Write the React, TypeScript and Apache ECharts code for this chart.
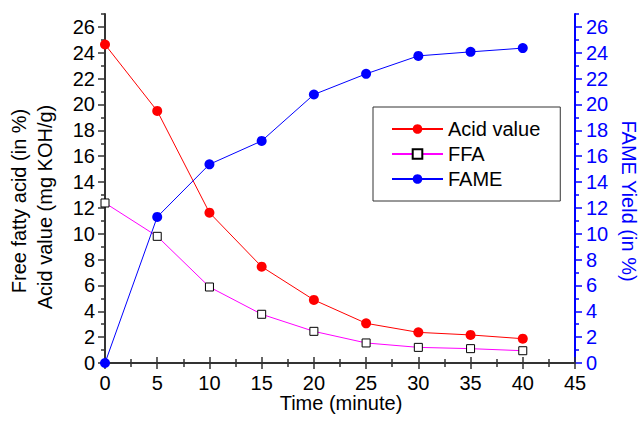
import React, { useEffect, useRef } from "react";
import * as echarts from "echarts";

const timeMin = [0, 5, 10, 15, 20, 25, 30, 35, 40];
const acidValue = [24.64, 19.5, 11.63, 7.45, 4.88, 3.07, 2.37, 2.17, 1.88];
const ffa = [12.38, 9.8, 5.88, 3.77, 2.45, 1.55, 1.21, 1.11, 0.95];
const fame = [0, 11.3, 15.37, 17.18, 20.77, 22.37, 23.76, 24.07, 24.36];
const yMajorTicks = [0, 2, 4, 6, 8, 10, 12, 14, 16, 18, 20, 22, 24, 26];
const yMinorTicks = [1, 3, 5, 7, 9, 11, 13, 15, 17, 19, 21, 23, 25, 27];

const FONT = "'Liberation Sans', Arial, sans-serif";
const AXIS_DARK = "#333333";
const BLUE = "#0000ff";

function pairs(values: number[]) {
  return timeMin.map((t, i) => [t, values[i]]);
}

export default function App() {
  const ref = useRef<HTMLDivElement>(null);
  useEffect(() => {
    if (!ref.current) return;
    const chart = echarts.init(ref.current, undefined, { renderer: "svg" });
    const yBase = {
      type: "value",
      min: 0,
      max: 27,
      splitLine: { show: false },
    };
    const option: any = {
      animation: false,
      backgroundColor: "#ffffff",
      textStyle: { fontFamily: FONT },
      grid: { left: 105, right: 66, top: 14, bottom: 58 },
      xAxis: [
        {
          type: "value",
          min: 0,
          max: 45,
          interval: 5,
          position: "bottom",
          axisLine: { show: true, lineStyle: { color: AXIS_DARK, width: 2 } },
          axisTick: { show: true, inside: true, length: 6, lineStyle: { color: AXIS_DARK, width: 1.5 } },
          minorTick: { show: true, splitNumber: 2, length: 4, lineStyle: { color: AXIS_DARK, width: 1.5 } },
          axisLabel: { color: "#000", fontSize: 20, fontFamily: FONT, margin: 10 },
          splitLine: { show: false },
        },
        {
          type: "value",
          min: 0,
          max: 45,
          interval: 5,
          position: "top",
          axisLine: { show: true, lineStyle: { color: AXIS_DARK, width: 2 } },
          axisTick: { show: true, inside: true, length: 6, lineStyle: { color: AXIS_DARK, width: 1.5 } },
          minorTick: { show: true, splitNumber: 2, length: 4, lineStyle: { color: AXIS_DARK, width: 1.5 } },
          axisLabel: { show: false },
          splitLine: { show: false },
        },
      ],
      yAxis: [
        {
          ...yBase,
          position: "left",
          axisLine: { show: true, lineStyle: { color: AXIS_DARK, width: 2 } },
          axisTick: { show: true, inside: false, length: 7, customValues: yMajorTicks, lineStyle: { color: AXIS_DARK, width: 1.5 } },
          axisLabel: { color: "#000", fontSize: 20, fontFamily: FONT, margin: 10, customValues: yMajorTicks },
        },
        {
          ...yBase,
          position: "left",
          axisLine: { show: false },
          axisTick: { show: true, inside: false, length: 4, customValues: yMinorTicks, lineStyle: { color: AXIS_DARK, width: 1.5 } },
          axisLabel: { show: false },
        },
        {
          ...yBase,
          position: "right",
          axisLine: { show: true, lineStyle: { color: BLUE, width: 2 } },
          axisTick: { show: true, inside: false, length: 7, customValues: yMajorTicks, lineStyle: { color: BLUE, width: 1.5 } },
          axisLabel: { color: BLUE, fontSize: 20, fontFamily: FONT, margin: 11, customValues: yMajorTicks },
        },
        {
          ...yBase,
          position: "right",
          axisLine: { show: false },
          axisTick: { show: true, inside: false, length: 4, customValues: yMinorTicks, lineStyle: { color: BLUE, width: 1.5 } },
          axisLabel: { show: false },
        },
      ],
      legend: {
        left: 373,
        top: 107,
        orient: "vertical",
        data: ["Acid value", "FFA", "FAME"],
        itemWidth: 51,
        itemHeight: 12,
        itemGap: 5,
        padding: [12, 20, 12, 18],
        borderColor: "#333333",
        borderWidth: 1,
        textStyle: { fontSize: 20, fontFamily: FONT, color: "#000", lineHeight: 20 },
      },
      series: [
        {
          name: "Acid value",
          type: "line",
          xAxisIndex: 0,
          yAxisIndex: 0,
          data: pairs(acidValue),
          symbol: "circle",
          symbolSize: 10,
          lineStyle: { color: "#ff0000", width: 1 },
          itemStyle: { color: "#ff0000" },
        },
        {
          name: "FFA",
          type: "line",
          xAxisIndex: 0,
          yAxisIndex: 0,
          data: pairs(ffa),
          symbol: "rect",
          symbolSize: 8,
          lineStyle: { color: "#ff00ff", width: 1 },
          itemStyle: { color: "#ffffff", borderColor: "#000000", borderWidth: 1 },
        },
        {
          name: "FAME",
          type: "line",
          xAxisIndex: 0,
          yAxisIndex: 2,
          data: pairs(fame),
          symbol: "circle",
          symbolSize: 10,
          lineStyle: { color: BLUE, width: 1 },
          itemStyle: { color: BLUE },
        },
      ],
      graphic: [
        {
          type: "text",
          x: 19,
          y: 201,
          rotation: Math.PI / 2,
          style: { text: "Free fatty acid (in %)", font: `20px ${FONT}`, fill: "#000", align: "center", verticalAlign: "middle" },
        },
        {
          type: "text",
          x: 45,
          y: 207,
          rotation: Math.PI / 2,
          style: { text: "Acid value (mg KOH/g)", font: `20px ${FONT}`, fill: "#000", align: "center", verticalAlign: "middle" },
        },
        {
          type: "text",
          x: 629,
          y: 201,
          rotation: -Math.PI / 2,
          style: { text: "FAME Yield (in %)", font: `20px ${FONT}`, fill: BLUE, align: "center", verticalAlign: "middle" },
        },
        {
          type: "text",
          x: 341,
          y: 403,
          style: { text: "Time (minute)", font: `20px ${FONT}`, fill: "#000", align: "center", verticalAlign: "middle" },
        },
      ],
    };
    chart.setOption(option);
    return () => chart.dispose();
  }, []);
  return (
    <div
      ref={ref}
      style={{ position: "fixed", left: 0, top: 0, width: 641, height: 421, background: "#fff" }}
    />
  );
}
